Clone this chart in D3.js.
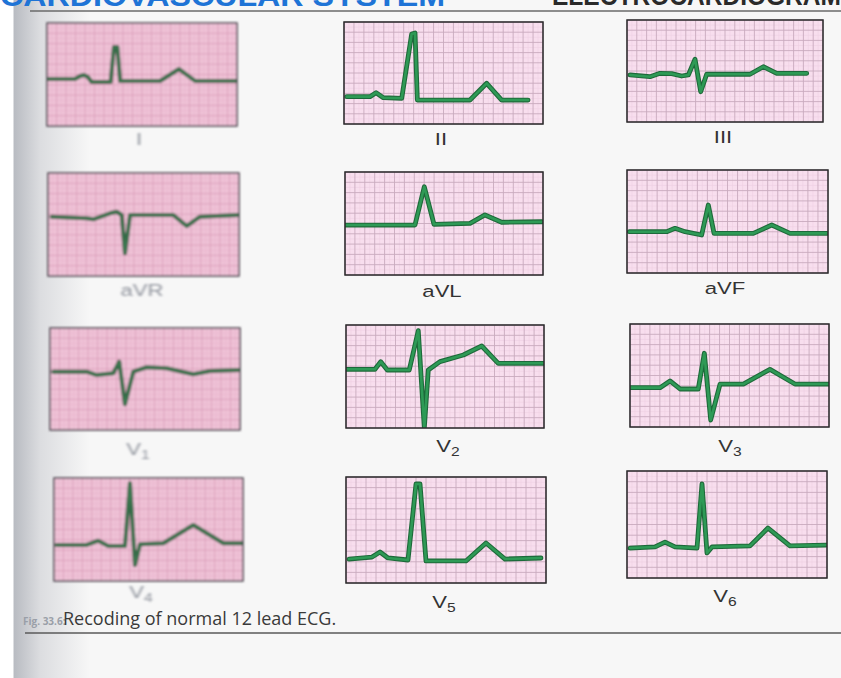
<!DOCTYPE html>
<html>
<head>
<meta charset="utf-8">
<script src="https://cdn.jsdelivr.net/npm/d3@7"></script>
<style>
  html, body { margin: 0; background: #f7f7f7; overflow: hidden; }
  svg { display: block; }
</style>
</head>
<body>
<div id="chart"></div>
<script>
// Lead names, in reading order (3 columns x 4 rows)
const leads = ["I", "II", "III", "aVR", "aVL", "aVF", "V1", "V2", "V3", "V4", "V5", "V6"];

// Traces: [time in small boxes (0-20), amplitude in boxes (-5..5)]
const lead_I   = [[0,-0.44],[2.95,-0.44],[3.5,-0.15],[3.9,-0.05],[4.3,-0.24],[4.7,-0.73],[6.7,-0.73],[7.05,2.67],[7.4,2.67],[7.7,-0.63],[11.9,-0.63],[13.9,0.53],[15.6,-0.63],[20,-0.63]];
const lead_II  = [[0.27,-2.32],[2.61,-2.32],[3.22,-1.93],[3.95,-2.42],[5.8,-2.48],[6.8,3.82],[7.14,3.92],[7.37,-2.65],[12.66,-2.65],[14.34,-1.01],[15.85,-2.65],[18.5,-2.65]];
const lead_III = [[0.31,-0.39],[2.35,-0.56],[3.37,-0.23],[4.56,-0.26],[5.58,-0.49],[6.26,-0.39],[6.94,1.15],[7.52,-2.03],[8.13,-0.32],[12.55,-0.32],[13.91,0.42],[15.28,-0.23],[18.34,-0.23]];
const lead_aVR = [[0.39,0.76],[4.05,0.6],[4.74,0.5],[6.49,1.09],[7.19,1.24],[7.72,0.92],[8.06,-2.8],[8.59,0.92],[13.12,0.92],[14.52,-0.15],[15.92,0.76],[19.93,0.92]];
const lead_aVL = [[0,-0.15],[7.07,-0.15],[8.01,3.57],[8.99,-0.08],[12.63,0.02],[14.14,0.83],[15.83,0.12],[19.87,0.17]];
const lead_aVF = [[0.23,-0.99],[3.95,-0.99],[4.78,-0.66],[5.77,-0.99],[7.43,-1.31],[8.09,1.6],[8.66,-1.15],[12.57,-1.15],[14.4,-0.34],[16.22,-1.15],[19.87,-1.15]];
const lead_V1  = [[0.35,0.72],[3.86,0.72],[4.92,0.39],[6.66,0.56],[7.29,1.7],[7.89,-2.48],[8.77,0.72],[10.18,1.15],[12.28,1.05],[15.08,0.46],[16.84,0.78],[20,0.88]];
const lead_V2  = [[0.07,0.7],[2.93,0.7],[3.51,1.44],[4.17,0.63],[6.39,0.63],[7.3,4.45],[7.91,-5.0],[8.31,0.63],[9.49,1.44],[11.85,2.09],[13.71,2.96],[15.38,1.28],[19.93,1.28]];
const lead_V3  = [[0.07,-1.18],[3.02,-1.18],[4.02,-0.53],[5.03,-1.31],[6.86,-1.31],[7.47,2.16],[8.11,-4.32],[9.05,-0.83],[11.39,-0.83],[14.07,0.6],[16.58,-0.83],[19.93,-0.83]];
const lead_V4  = [[0.29,-1.5],[3.46,-1.5],[4.69,-1.09],[5.75,-1.6],[7.51,-1.6],[8.04,4.49],[8.57,-3.45],[9.1,-1.44],[11.57,-1.34],[14.74,0.44],[17.92,-1.34],[19.97,-1.34]];
const lead_V5  = [[0.3,-2.74],[2.6,-2.55],[3.4,-2.08],[4.2,-2.64],[6.2,-2.83],[7.0,4.34],[7.4,4.34],[8.0,-2.92],[12.0,-2.92],[14.0,-1.23],[15.9,-2.74],[19.5,-2.64]];
const lead_V6  = [[0.3,-2.2],[2.8,-2.1],[3.8,-1.64],[4.8,-2.1],[7.0,-2.2],[7.5,3.79],[8.0,-2.66],[8.5,-2.1],[12.3,-2.0],[14.1,-0.33],[16.3,-2.0],[19.9,-1.92]];

const traces = [lead_I, lead_II, lead_III, lead_aVR, lead_aVL, lead_aVF,
                lead_V1, lead_V2, lead_V3, lead_V4, lead_V5, lead_V6];

const caption_fig = "Fig. 33.6:";
const caption_text = "Recoding of normal 12 lead ECG.";

// Layout of the paper boxes on the page (pixels)
const boxes = [
  {x: 47,  y: 23,  w: 190, h: 103}, {x: 344, y: 22,  w: 199, h: 102}, {x: 627, y: 20,  w: 196, h: 102},
  {x: 48,  y: 173, w: 191, h: 103}, {x: 345, y: 172, w: 198, h: 103}, {x: 627, y: 170, w: 201, h: 103},
  {x: 50,  y: 328, w: 190, h: 102}, {x: 346, y: 325, w: 198, h: 103}, {x: 630, y: 324, w: 199, h: 103},
  {x: 54,  y: 478, w: 189, h: 103}, {x: 346, y: 477, w: 200, h: 106}, {x: 627, y: 471, w: 200, h: 107}
];
const label_pos = [
  [139, 145], [441, 145], [723, 143],
  [142, 296], [442, 297], [725, 294],
  [138, 455], [448, 452], [730, 452],
  [141, 598], [444, 608], [725, 602]
];

const width = 841, height = 678;

const svg = d3.select("#chart").append("svg")
    .attr("width", width)
    .attr("height", height);

const defs = svg.append("defs");

// scanned page shading on the left edge
const grad = defs.append("linearGradient").attr("id", "shade");
grad.append("stop").attr("offset", "0%").attr("stop-color", "#ffffff");
grad.append("stop").attr("offset", "14%").attr("stop-color", "#ffffff");
grad.append("stop").attr("offset", "16%").attr("stop-color", "#b9bcc2");
grad.append("stop").attr("offset", "45%").attr("stop-color", "#dcdde0");
grad.append("stop").attr("offset", "100%").attr("stop-color", "#f7f7f7");

defs.append("filter").attr("id", "blur")
    .append("feGaussianBlur").attr("stdDeviation", 1.1);
defs.append("filter").attr("id", "soft")
    .append("feGaussianBlur").attr("stdDeviation", 0.4);

svg.append("rect").attr("width", width).attr("height", height).attr("fill", "#f7f7f7");
svg.append("rect").attr("width", 90).attr("height", height).attr("fill", "url(#shade)");

// running header, mostly cut off at the top of the scan
svg.append("text")
    .attr("x", 0).attr("y", 6)
    .attr("textLength", 445).attr("lengthAdjust", "spacingAndGlyphs")
    .style("font", "bold 30px 'Liberation Sans', Arial, sans-serif")
    .attr("fill", "#1f74d6")
    .text("CARDIOVASCULAR SYSTEM");
svg.append("text")
    .attr("x", 552).attr("y", 5)
    .attr("textLength", 289).attr("lengthAdjust", "spacingAndGlyphs")
    .style("font", "bold 28px 'Liberation Sans', Arial, sans-serif")
    .attr("fill", "#2a2a2a")
    .text("ELECTROCARDIOGRAM");
svg.append("line")
    .attr("x1", 30).attr("x2", width).attr("y1", 11).attr("y2", 11)
    .attr("stroke", "#6a6a6a").attr("stroke-width", 1.5);

const line_for = (x, y) => d3.line().x(d => x(d[0])).y(d => y(d[1]));

leads.forEach(function(name, i){
    const b = boxes[i];
    const left_col = (i % 3 === 0);

    const x = d3.scaleLinear().domain([0, 20]).range([b.x, b.x + b.w]);
    const y = d3.scaleLinear().domain([-5, 5]).range([b.y + b.h, b.y]);

    const g = svg.append("g")
        .attr("class", "lead")
        .attr("filter", left_col ? "url(#blur)" : "url(#soft)");

    defs.append("clipPath").attr("id", "clip" + i)
        .append("rect").attr("x", b.x).attr("y", b.y).attr("width", b.w).attr("height", b.h);

    // paper
    g.append("rect")
        .attr("x", b.x).attr("y", b.y).attr("width", b.w).attr("height", b.h)
        .attr("fill", left_col ? "#efc3d7" : "#f8deee");

    // fine grid then the box grid
    const minor = d3.range(0.5, 20, 1);
    const minor_y = d3.range(-4.5, 5, 1);
    g.append("g").selectAll("line").data(minor).join("line")
        .attr("x1", d => x(d)).attr("x2", d => x(d))
        .attr("y1", b.y).attr("y2", b.y + b.h)
        .attr("stroke", left_col ? "#e8b2cb" : "#efd0e2").attr("stroke-width", 0.6);
    g.append("g").selectAll("line").data(minor_y).join("line")
        .attr("y1", d => y(d)).attr("y2", d => y(d))
        .attr("x1", b.x).attr("x2", b.x + b.w)
        .attr("stroke", left_col ? "#e8b2cb" : "#efd0e2").attr("stroke-width", 0.6);

    g.append("g").selectAll("line").data(x.ticks(20)).join("line")
        .attr("x1", d => x(d)).attr("x2", d => x(d))
        .attr("y1", b.y).attr("y2", b.y + b.h)
        .attr("stroke", left_col ? "#d99bb8" : "#c8aabd").attr("stroke-width", 0.9);
    g.append("g").selectAll("line").data(y.ticks(10)).join("line")
        .attr("y1", d => y(d)).attr("y2", d => y(d))
        .attr("x1", b.x).attr("x2", b.x + b.w)
        .attr("stroke", left_col ? "#d99bb8" : "#c8aabd").attr("stroke-width", 0.9);

    // trace: dark edge underneath, brighter green on top
    const path = line_for(x, y);
    const tg = g.append("g").attr("clip-path", "url(#clip" + i + ")");
    tg.append("path")
        .datum(traces[i])
        .attr("d", path)
        .attr("fill", "none")
        .attr("stroke", left_col ? "#2b5a3c" : "#1f6a3a")
        .attr("stroke-width", left_col ? 4 : 4.8)
        .attr("stroke-linejoin", "round")
        .attr("stroke-linecap", "round");
    tg.append("path")
        .datum(traces[i])
        .attr("d", path)
        .attr("fill", "none")
        .attr("stroke", left_col ? "#3f7a52" : "#2f9a56")
        .attr("stroke-width", left_col ? 2 : 2.6)
        .attr("stroke-linejoin", "round")
        .attr("stroke-linecap", "round");

    // box border
    g.append("rect")
        .attr("x", b.x).attr("y", b.y).attr("width", b.w).attr("height", b.h)
        .attr("fill", "none")
        .attr("stroke", left_col ? "#4a4a50" : "#2a2a2a")
        .attr("stroke-width", 1.5);

    // lead label
    const lp = label_pos[i];
    const lab = svg.append("text")
        .attr("transform", `translate(${lp[0]},${lp[1]}) scale(1.3,1)`)
        .attr("text-anchor", "middle")
        .attr("filter", left_col ? "url(#blur)" : null)
        .style("font", "17px 'Liberation Sans', Arial, sans-serif")
        .attr("fill", left_col ? "#8f939c" : "#333333");
    if (name[0] === "V") {
        lab.append("tspan").text("V");
        lab.append("tspan").attr("dy", 4).style("font-size", "12px").text(name.slice(1));
    } else {
        lab.text(name);
    }
});

// caption: one text, the faded figure number then the title
const cap = svg.append("text")
    .attr("y", 625)
    .style("font", "18px 'Open Sans', sans-serif");
cap.append("tspan")
    .attr("x", 23)
    .style("font-size", "10px").style("font-weight", "bold")
    .attr("fill", "#9a9fa8")
    .text(caption_fig);
cap.append("tspan")
    .attr("x", 63)
    .attr("fill", "#3a3a3a")
    .text(caption_text);
svg.append("line")
    .attr("x1", 25).attr("x2", width).attr("y1", 633).attr("y2", 633)
    .attr("stroke", "#5a5a5a").attr("stroke-width", 1.5);
</script>
</body>
</html>
